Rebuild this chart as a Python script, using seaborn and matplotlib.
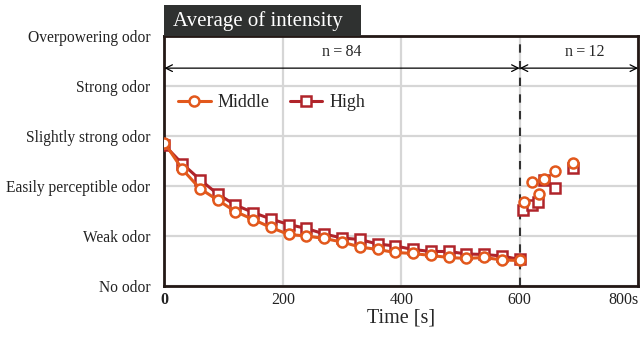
import numpy as np
import pandas as pd
import matplotlib
matplotlib.use("Agg")
import matplotlib.pyplot as plt
import matplotlib.transforms as mtransforms
from matplotlib.lines import Line2D
from matplotlib.patches import Rectangle
import seaborn as sns

# odor scale labels (level 0..5)
odor_levels = ["No odor", "Weak odor", "Easily perceptible odor",
               "Slightly strong odor", "Strong odor", "Overpowering odor"]

# first phase, n=84, every 30 s
time_a = [0, 30, 60, 90, 120, 150, 180, 210, 240, 270, 300, 330, 360, 390,
          420, 450, 480, 510, 540, 570, 600]
middle_a = [2.87, 2.34, 1.95, 1.72, 1.49, 1.33, 1.17, 1.03, 1.00, 0.95, 0.88,
            0.78, 0.73, 0.67, 0.65, 0.61, 0.57, 0.55, 0.57, 0.52, 0.51]
high_a = [2.82, 2.45, 2.13, 1.84, 1.62, 1.47, 1.34, 1.23, 1.15, 1.04, 0.96,
          0.93, 0.84, 0.80, 0.73, 0.69, 0.69, 0.64, 0.63, 0.60, 0.53]

# second phase, n=12
time_b_middle = [608, 620, 632, 641, 660, 690]
middle_b = [1.69, 2.08, 1.84, 2.14, 2.31, 2.47]
time_b_high = [606, 620, 631, 641, 660, 690]
high_b = [1.53, 1.62, 1.68, 2.13, 1.96, 2.36]

x_ticks = [0, 200, 400, 600, 800]
x_ticklabels = ["0", "200", "400", "600", "800s"]

c_mid = "#E2581C"
c_high = "#B0242A"

sns.set_theme(style="white")
plt.rcParams["font.family"] = ["Liberation Serif", "DejaVu Serif"]

df_a = pd.DataFrame({
    "time": time_a * 2,
    "value": middle_a + high_a,
    "group": ["Middle"] * len(time_a) + ["High"] * len(time_a),
})
df_b = pd.DataFrame({
    "time": time_b_middle + time_b_high,
    "value": middle_b + high_b,
    "group": ["Middle"] * len(time_b_middle) + ["High"] * len(time_b_high),
})

fig = plt.figure(figsize=(6.42, 3.38), dpi=100)
ax = fig.add_axes([0.256, 0.154, 0.738, 0.739])

marker_kw = dict(markeredgewidth=1.8, markerfacecolor="white")
msize = {"o": 7.2, "s": 6.6}

# High drawn first so that Middle circles sit on top
for grp, col, mk in [("High", c_high, "s"), ("Middle", c_mid, "o")]:
    z = 4 if grp == "Middle" else 3
    sub = df_a[df_a["group"] == grp]
    sns.lineplot(data=sub, x="time", y="value", ax=ax, color=col, lw=2.2,
                 marker=mk, markersize=msize[mk], markeredgecolor=col, zorder=z,
                 legend=False, **marker_kw)
    subb = df_b[df_b["group"] == grp]
    ax.plot(subb["time"], subb["value"], ls="none", marker=mk, color=col,
            markersize=msize[mk], markeredgecolor=col, zorder=z, **marker_kw)

ax.set_xlim(0, 800)
ax.set_ylim(0, 5)
ax.set_xticks(x_ticks)
ax.set_xticklabels(x_ticklabels, fontsize=11.5)
xt = ax.get_xticklabels()
xt[0].set_fontweight("bold")
xt[-1].set_horizontalalignment("right")
xt[-1].set_transform(xt[-1].get_transform() +
                     mtransforms.ScaledTranslation(0.04, 0, fig.dpi_scale_trans))
ax.set_yticks(range(len(odor_levels)))
ax.set_yticklabels(odor_levels, fontsize=11.2)
ax.tick_params(axis="both", length=0, colors="#222222")
ax.tick_params(axis="y", pad=10)
ax.tick_params(axis="x", pad=4)

ax.grid(True, color="#d6d6d6", lw=1.6)
ax.set_axisbelow(True)
for s in ax.spines.values():
    s.set_color("#231815")
    s.set_linewidth(2)

ax.axvline(600, color="#333333", lw=1.5, ls=(0, (4, 4)), zorder=2)

ax.annotate("", xy=(0, 4.36), xytext=(600, 4.36),
            arrowprops=dict(arrowstyle="<->", lw=0.9, color="black",
                            shrinkA=0, shrinkB=0))
ax.annotate("", xy=(600, 4.36), xytext=(800, 4.36),
            arrowprops=dict(arrowstyle="<->", lw=0.9, color="black",
                            shrinkA=0, shrinkB=0))
ax.text(300, 4.68, "n\u2009=\u200984", ha="center", va="center", fontsize=11.5)
ax.text(710, 4.68, "n\u2009=\u200912", ha="center", va="center", fontsize=11.5)

ax.set_xlabel("Time [s]", fontsize=14.5, labelpad=1)
ax.set_ylabel("")

handles = [
    Line2D([], [], color=c_mid, lw=2.2, marker="o", markersize=msize["o"],
           markeredgecolor=c_mid, **marker_kw),
    Line2D([], [], color=c_high, lw=2.2, marker="s", markersize=msize["s"],
           markeredgecolor=c_high, **marker_kw),
]
ax.legend(handles, ["Middle", "High"], ncol=2, frameon=False, loc="center left",
          bbox_to_anchor=(-0.005, 0.735), fontsize=13, handlelength=1.8,
          handletextpad=0.4, columnspacing=1.1)

# title tab
fig.patches.append(Rectangle((164 / 642, 1 - 36 / 338), 197 / 642, 31 / 338,
                             transform=fig.transFigure, facecolor="#2f3130",
                             edgecolor="none", zorder=5))
fig.text(173 / 642, 1 - 21 / 338, "Average of intensity", color="white",
         fontsize=15, va="center", ha="left", zorder=6)

fig.savefig("out.png", dpi=100)
